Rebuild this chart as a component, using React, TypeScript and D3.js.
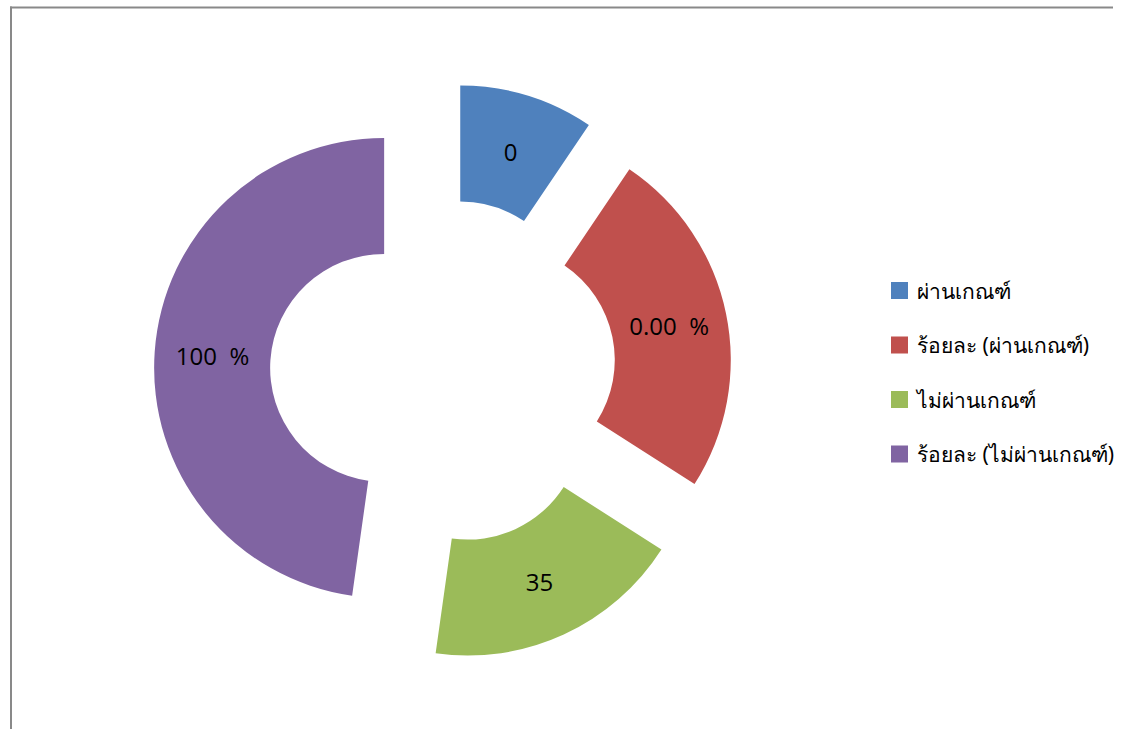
import React from "react";
import * as d3 from "d3";

const categories = ["ผ่านเกณฑ์", "ร้อยละ (ผ่านเกณฑ์)", "ไม่ผ่านเกณฑ์", "ร้อยละ (ไม่ผ่านเกณฑ์)"];
const sliceValues = [34, 88.6, 65.4, 172];
const dataLabels = ["0", "0.00  %", "35", "100  %"];
const colors = ["#4F81BD", "#C0504D", "#9BBB59", "#8064A2"];

export default function App() {
  const W = 1122;
  const H = 729;
  const cx = 443;
  const cy = 372;
  const innerR = 114;
  const outerR = 230;
  const explode = 59;

  const pie = d3.pie<number>().sort(null).startAngle(0).endAngle(2 * Math.PI);
  const arcs = pie(sliceValues);
  const arc = d3.arc<d3.PieArcDatum<number>>().innerRadius(innerR).outerRadius(outerR);

  const legendX = 891;
  const legendY0 = 290.5;
  const legendStep = 54.5;

  return (
    <svg
      width={W}
      height={H}
      style={{ position: "absolute", left: 0, top: 0, background: "#fff" }}
    >
      <line x1={10} y1={7.5} x2={1113} y2={7.5} stroke="#898989" strokeWidth={2} />
      <line x1={11} y1={6.5} x2={11} y2={729} stroke="#898989" strokeWidth={2} />
      {arcs.map((a, i) => {
        const mid = (a.startAngle + a.endAngle) / 2;
        const dx = Math.sin(mid) * explode;
        const dy = -Math.cos(mid) * explode;
        const [lx, ly] = arc.centroid(a);
        return (
          <g key={i} transform={`translate(${cx + dx},${cy + dy})`}>
            <path d={arc(a) || ""} fill={colors[i]} />
            <text
              x={lx}
              y={ly}
              textAnchor="middle"
              dominantBaseline="central"
              fontFamily="'Open Sans', 'Noto Sans', sans-serif"
              fontSize={24}
              fill="#000"
              style={{ whiteSpace: "pre" }}
            >
              {dataLabels[i]}
            </text>
          </g>
        );
      })}
      {categories.map((c, i) => (
        <g key={c} transform={`translate(${legendX},${legendY0 + i * legendStep})`}>
          <rect x={0} y={-8.5} width={17} height={17} fill={colors[i]} />
          <text
            x={26}
            y={0}
            dominantBaseline="central"
            fontFamily="'Noto Sans', 'Open Sans', sans-serif"
            fontSize={21}
            fill="#000"
          >
            {c}
          </text>
        </g>
      ))}
    </svg>
  );
}
